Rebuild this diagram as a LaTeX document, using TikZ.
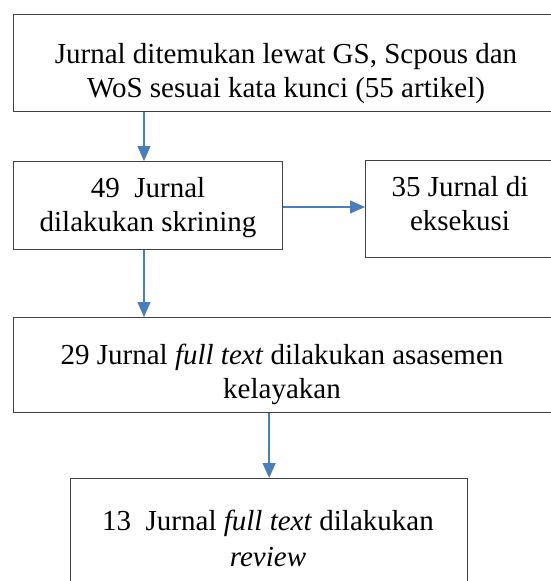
\documentclass[tikz,border=0pt]{standalone}
\usepackage{fontspec}
\setmainfont{Liberation Serif}
\usetikzlibrary{arrows.meta,calc}
\definecolor{boxline}{HTML}{404040}
\definecolor{arrowblue}{HTML}{4A7EBB}
\tikzset{
  box/.style={draw=boxline, line width=1.3pt, rectangle, inner sep=0pt, anchor=north west},
  txt/.style={anchor=base, inner sep=0pt, font=\fontsize{29}{34}\selectfont, text=black},
  arr/.style={draw=arrowblue, line width=1.5pt, -{Triangle[length=15pt,width=13pt]}, shorten >=0pt}
}
\begin{document}
\begin{tikzpicture}[x=1pt,y=-1pt]
\useasboundingbox (0,0) rectangle (551,581);
\fill[white] (0,0) rectangle (551,581);
\begin{scope}
\clip (0,0) rectangle (551,581);
% boxes
\node[box, minimum width=547pt, minimum height=97pt] (b1) at (13,14) {};
\node[box, minimum width=269pt, minimum height=88pt] (b2) at (13,161) {};
\node[box, minimum width=195pt, minimum height=97pt] (b3) at (365,160) {};
\node[box, minimum width=547pt, minimum height=95pt] (b4) at (13,317) {};
\node[box, minimum width=397pt, minimum height=120pt] (b5) at (70,478) {};
% texts
\node[txt] (t1a) at (286,63) {Jurnal ditemukan lewat GS, Scpous dan};
\node[txt] (t1b) at (286,97) {WoS sesuai kata kunci (55 artikel)};
\node[txt] (t2a) at (148,197) {49\ \ Jurnal};
\node[txt] (t2b) at (148,231) {dilakukan skrining};
\node[txt] (t3a) at (460,196) {35 Jurnal di};
\node[txt] (t3b) at (460,230) {eksekusi};
\node[txt] (t4a) at (282,364) {29 Jurnal \textit{full text} dilakukan asasemen};
\node[txt] (t4b) at (282,398) {kelayakan};
\node[txt] (t5a) at (268,530) {13\ \ Jurnal \textit{full text} dilakukan};
\node[txt] (t5b) at (268,566) {\textit{review}};
% connectors
\coordinate (cx) at (144,0);
\draw[arr] (cx |- b1.south) -- (cx |- b2.north);
\draw[arr] (cx |- b2.south) -- (cx |- b4.north);
\coordinate (cy) at (0,207);
\draw[arr] (cy -| b2.east) -- (cy -| b3.west);
\draw[arr] (b5.north |- b4.south) -- (b5.north);
\end{scope}
\end{tikzpicture}
\end{document}
